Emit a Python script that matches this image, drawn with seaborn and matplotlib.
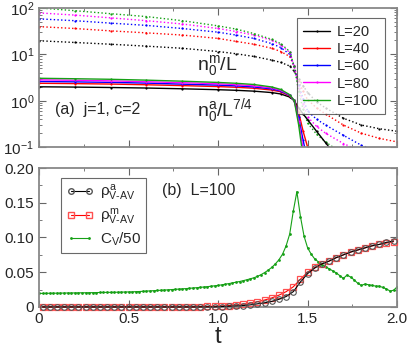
import numpy as np
import pandas as pd
from matplotlib import pyplot as plt
from matplotlib.lines import Line2D
from matplotlib.ticker import MultipleLocator, LogLocator, NullFormatter
import seaborn as sns

###############################################################################
# DADOS - painel (a): n0/L (magnetizacao) e n0/L^(7/4) (antiferro)
###############################################################################
t_a = [0, 0.2, 0.4, 0.6, 0.8, 1.0, 1.1, 1.2, 1.3, 1.35, 1.4, 1.425, 1.45,
       1.475, 1.5, 1.55, 1.6, 1.7, 1.8, 1.9, 2.0]
sizes = [20, 40, 60, 80, 100]
size_colors = ["black", "red", "blue", "magenta", "#16a016"]

nm_20 = [19.6, 18, 16.5, 15, 13.5, 11.5, 10.3, 9, 7.5, 6.7, 5.6, 4.3, 3.0,
         2.1, 1.5, 0.95, 0.7, 0.42, 0.3, 0.25, 0.22]
nm_40 = [39.5, 36, 32, 29, 26, 22, 19, 16.5, 13.5, 11.5, 9, 5.5, 2.6, 1.6,
         1.05, 0.7, 0.52, 0.3, 0.2, 0.155, 0.13]
nm_60 = [58, 53, 47, 42, 36, 30, 26, 22, 17, 14, 10, 5.5, 2.2, 1.1, 0.6,
         0.4, 0.3, 0.18, 0.11, 0.08, 0.06]
nm_80 = [78, 70, 61, 53, 45, 36, 31, 26, 20, 16, 11, 5.5, 1.9, 0.85, 0.45,
         0.28, 0.2, 0.12, 0.08, 0.055, 0.04]
nm_100 = [100, 87, 75, 65, 53, 41, 35, 28, 21, 17, 11.5, 5.5, 1.6, 0.65,
          0.33, 0.19, 0.13, 0.07, 0.04, 0.025, 0.015]

na_20 = [2.0, 1.97, 1.93, 1.88, 1.81, 1.73, 1.68, 1.61, 1.5, 1.4, 1.2, 1.0,
         0.7, 0.52, 0.39, 0.22, 0.125, 0.04, 0.013, 0.004, 0.0015]
na_40 = [2.38, 2.34, 2.29, 2.21, 2.12, 2.02, 1.95, 1.86, 1.7, 1.56, 1.27,
         1.02, 0.56, 0.22, 0.1, 0.03, 0.01, 0.002, 0.001, 0.001, 0.001]
na_60 = [2.6, 2.55, 2.49, 2.4, 2.28, 2.17, 2.09, 1.98, 1.8, 1.62, 1.3, 1.02,
         0.44, 0.14, 0.05, 0.012, 0.004, 0.001, 0.001, 0.001, 0.001]
na_80 = [2.82, 2.76, 2.68, 2.57, 2.45, 2.32, 2.23, 2.1, 1.88, 1.68, 1.33,
         1.02, 0.36, 0.09, 0.03, 0.008, 0.003, 0.001, 0.001, 0.001, 0.001]
na_100 = [3.05, 2.98, 2.9, 2.78, 2.64, 2.48, 2.38, 2.24, 1.98, 1.75, 1.35,
          1.02, 0.3, 0.06, 0.015, 0.004, 0.002, 0.001, 0.001, 0.001, 0.001]

###############################################################################
# DADOS - painel (b): L=100
###############################################################################
t_rho = [0.02, 0.06, 0.10, 0.14, 0.18, 0.22, 0.26, 0.30, 0.34, 0.38, 0.42,
         0.46, 0.50, 0.54, 0.58, 0.62, 0.66, 0.70, 0.74, 0.78, 0.82, 0.86,
         0.90, 0.94, 0.98, 1.02, 1.06, 1.10, 1.14, 1.18, 1.22, 1.26, 1.30,
         1.34, 1.38, 1.42, 1.46, 1.50, 1.54, 1.58, 1.62, 1.66, 1.70, 1.74,
         1.78, 1.82, 1.86, 1.90, 1.94, 1.98]
rho_a = [0.0] * 25 + [0.0005, 0.001, 0.0015, 0.002, 0.003, 0.0045, 0.006,
                      0.008, 0.011, 0.015, 0.022, 0.036, 0.048, 0.056, 0.062,
                      0.066, 0.071, 0.075, 0.079, 0.082, 0.085, 0.088, 0.090,
                      0.093, 0.095]
rho_m = [0.0] * 22 + [0.0005, 0.0007, 0.001, 0.0015, 0.002, 0.003, 0.004,
                      0.0055, 0.0075, 0.010, 0.013, 0.017, 0.022, 0.029, 0.040,
                      0.050, 0.057, 0.062, 0.066, 0.071, 0.075, 0.079, 0.082,
                      0.085, 0.088, 0.090, 0.092, 0.094]

t_cv = [0.00, 0.02, 0.04, 0.06, 0.08, 0.10, 0.12, 0.14, 0.16, 0.18, 0.20,
        0.22, 0.24, 0.26, 0.28, 0.30, 0.32, 0.34, 0.36, 0.38, 0.40, 0.42,
        0.44, 0.46, 0.48, 0.50, 0.52, 0.54, 0.56, 0.58, 0.60, 0.62, 0.64,
        0.66, 0.68, 0.70, 0.72, 0.74, 0.76, 0.78, 0.80, 0.82, 0.84, 0.86,
        0.88, 0.90, 0.92, 0.94, 0.96, 0.98, 1.00, 1.02, 1.04, 1.06, 1.08,
        1.10, 1.12, 1.14, 1.16, 1.18, 1.20, 1.22, 1.24, 1.26, 1.28, 1.30,
        1.32, 1.34, 1.36, 1.38, 1.40, 1.42, 1.44, 1.46, 1.48, 1.50, 1.52,
        1.54, 1.56, 1.58, 1.60, 1.62, 1.64, 1.66, 1.68, 1.70, 1.72, 1.74,
        1.76, 1.78, 1.80, 1.82, 1.84, 1.86, 1.88, 1.90, 1.92, 1.94, 1.96,
        1.98, 2.00]
cv_50 = [0.0195, 0.0195, 0.0196, 0.0197, 0.0198, 0.0198, 0.0199, 0.0200,
         0.0201, 0.0201, 0.0202, 0.0203, 0.0204, 0.0204, 0.0205, 0.0206,
         0.0207, 0.0208, 0.0209, 0.0210, 0.0210, 0.0211, 0.0212, 0.0213,
         0.0215, 0.0216, 0.0217, 0.0220, 0.0222, 0.0225, 0.0228, 0.0231,
         0.0234, 0.0237, 0.0240, 0.0243, 0.0246, 0.0250, 0.0253, 0.0257,
         0.0260, 0.0264, 0.0268, 0.0273, 0.0277, 0.0282, 0.0287, 0.0292,
         0.0298, 0.0304, 0.0310, 0.0318, 0.0327, 0.0336, 0.0346, 0.0356,
         0.0366, 0.0378, 0.0391, 0.0405, 0.0420, 0.0440, 0.0465, 0.0495,
         0.0530, 0.0570, 0.062, 0.068, 0.076, 0.088, 0.105, 0.138, 0.166,
         0.130, 0.102, 0.085, 0.076, 0.069, 0.065, 0.061, 0.058, 0.055,
         0.052, 0.049, 0.045, 0.041, 0.046, 0.043, 0.039, 0.034, 0.031,
         0.033, 0.032, 0.031, 0.030, 0.030, 0.028, 0.026, 0.023, 0.024,
         0.029]

###############################################################################
# MONTAGEM DOS DATAFRAMES
###############################################################################
nm_all = [nm_20, nm_40, nm_60, nm_80, nm_100]
na_all = [na_20, na_40, na_60, na_80, na_100]
df_m = pd.concat([pd.DataFrame({"t": t_a, "val": v, "L": L})
                  for L, v in zip(sizes, nm_all)])
df_a = pd.concat([pd.DataFrame({"t": t_a, "val": v, "L": L})
                  for L, v in zip(sizes, na_all)])
df_rho = pd.DataFrame({"t": t_rho, "rho_a": rho_a, "rho_m": rho_m})
df_cv = pd.DataFrame({"t": t_cv, "cv": cv_50})

###############################################################################
# VISUALIZACAO
###############################################################################
sns.set_style("ticks")
plt.rcParams["font.family"] = ["Liberation Sans", "DejaVu Sans"]
plt.rcParams["mathtext.fontset"] = "custom"
plt.rcParams["mathtext.rm"] = "Liberation Sans"
plt.rcParams["mathtext.it"] = "Liberation Sans"
plt.rcParams["mathtext.bf"] = "Liberation Sans:bold"
plt.rcParams["axes.edgecolor"] = "#888888"
plt.rcParams["axes.linewidth"] = 1.3

fig = plt.figure(figsize=(4.15, 3.59), dpi=100)
ax1 = fig.add_axes([0.094, 0.590, 0.863, 0.388])
ax2 = fig.add_axes([0.094, 0.145, 0.863, 0.387])
pal = dict(zip(sizes, size_colors))

sns.lineplot(data=df_m, x="t", y="val", hue="L", palette=pal, ax=ax1,
             estimator=None, legend=False, linestyle=":", linewidth=1.0,
             marker="o", markersize=1.6, markeredgewidth=0)
sns.lineplot(data=df_a, x="t", y="val", hue="L", palette=pal, ax=ax1,
             estimator=None, legend=False, linewidth=1.0,
             marker="o", markersize=1.6, markeredgewidth=0)
ax1.set_yscale("log")
ax1.set_xlim(0, 2.0)
ax1.set_ylim(0.1, 100)
ax1.set_xlabel("")
ax1.set_ylabel("")
ax1.yaxis.set_major_locator(LogLocator(base=10, numticks=10))
ax1.yaxis.set_minor_locator(LogLocator(base=10, subs=np.arange(2, 10), numticks=10))
ax1.yaxis.set_minor_formatter(NullFormatter())
ax1.xaxis.set_major_locator(MultipleLocator(0.5))
ax1.xaxis.set_minor_locator(MultipleLocator(0.25))
ax1.tick_params(axis="x", labelbottom=False)

handles = [Line2D([], [], color=c, lw=1.0, marker="o", markersize=1.6,
                  markeredgewidth=0) for c in size_colors]
leg1 = ax1.legend(handles, [f"L={L}" for L in sizes], loc="upper right",
                  bbox_to_anchor=(0.966, 0.925), fontsize=10.5, frameon=True,
                  fancybox=False, handlelength=1.8, borderpad=0.45,
                  labelspacing=0.22, handletextpad=0.5, borderaxespad=0)
leg1.get_frame().set_edgecolor("#444444")
leg1.get_frame().set_linewidth(0.8)

ax1.text(0.44, 0.59, r"n$_0^{\rm m}$/L", transform=ax1.transAxes,
         fontsize=14, va="center", ha="left")
ax1.text(0.44, 0.265, r"n$_0^{\rm a}$/L$^{7/4}$", transform=ax1.transAxes,
         fontsize=14, va="center", ha="left")
ax1.text(0.045, 0.27, "(a)  j=1, c=2", transform=ax1.transAxes,
         fontsize=11.5, va="center", ha="left")

# painel (b)
sns.lineplot(data=df_rho, x="t", y="rho_a", ax=ax2, color="black",
             linewidth=0.8, marker="o", markersize=4, markerfacecolor="none",
             markeredgecolor="#555555", markeredgewidth=0.8, estimator=None,
             clip_on=False, zorder=4)
sns.lineplot(data=df_rho, x="t", y="rho_m", ax=ax2, color="red",
             linewidth=0.8, marker="s", markersize=5, markerfacecolor="none",
             markeredgecolor="#ff5050", markeredgewidth=0.9, estimator=None,
             clip_on=False, zorder=3)
sns.lineplot(data=df_cv, x="t", y="cv", ax=ax2, color="#16a016",
             linewidth=0.8, marker="o", markersize=2, markeredgewidth=0,
             estimator=None)
ax2.set_xlim(0, 2.0)
ax2.set_ylim(0, 0.2)
ax2.set_yticks([0, 0.05, 0.10, 0.15, 0.20])
ax2.set_yticklabels(["0", "0.05", "0.10", "0.15", "0.20"])
ax2.yaxis.set_minor_locator(MultipleLocator(0.025))
ax2.set_xticks([0, 0.5, 1.0, 1.5, 2.0])
ax2.set_xticklabels(["0", "0.5", "1.0", "1.5", "2.0"])
ax2.xaxis.set_minor_locator(MultipleLocator(0.25))
ax2.set_xlabel("t", fontsize=17, labelpad=0)
ax2.set_ylabel("")

handles2 = [
    Line2D([], [], color="black", lw=0.8, marker="o", markersize=4,
           markerfacecolor="none", markeredgecolor="#555555"),
    Line2D([], [], color="red", lw=0.8, marker="s", markersize=5,
           markerfacecolor="none", markeredgecolor="#ff5050"),
    Line2D([], [], color="#16a016", lw=0.8, marker="o", markersize=2,
           markeredgewidth=0),
]
labels2 = [r"$\rho^{\rm a}_{\rm V\text{-}AV}$", r"$\rho^{\rm m}_{\rm V\text{-}AV}$",
           r"C$_{\rm V}$/50"]
leg2 = ax2.legend(handles2, labels2, loc="upper left",
                  bbox_to_anchor=(0.061, 0.93), fontsize=11, frameon=True,
                  fancybox=False, handlelength=1.8, borderpad=0.35,
                  labelspacing=0.25, handletextpad=0.4, numpoints=2,
                  borderaxespad=0)
leg2.get_frame().set_edgecolor("#444444")
leg2.get_frame().set_linewidth(0.8)
ax2.text(0.344, 0.835, "(b)  L=100", transform=ax2.transAxes,
         fontsize=11.5, va="center", ha="left")

for ax in (ax1, ax2):
    ax.tick_params(which="both", direction="in", top=True, right=True,
                   color="#666666")
    ax.tick_params(which="major", length=5, width=0.8)
    ax.tick_params(which="minor", length=2.5, width=0.6)
    ax.tick_params(axis="both", labelsize=11)

plt.savefig("out.png", dpi=100)
